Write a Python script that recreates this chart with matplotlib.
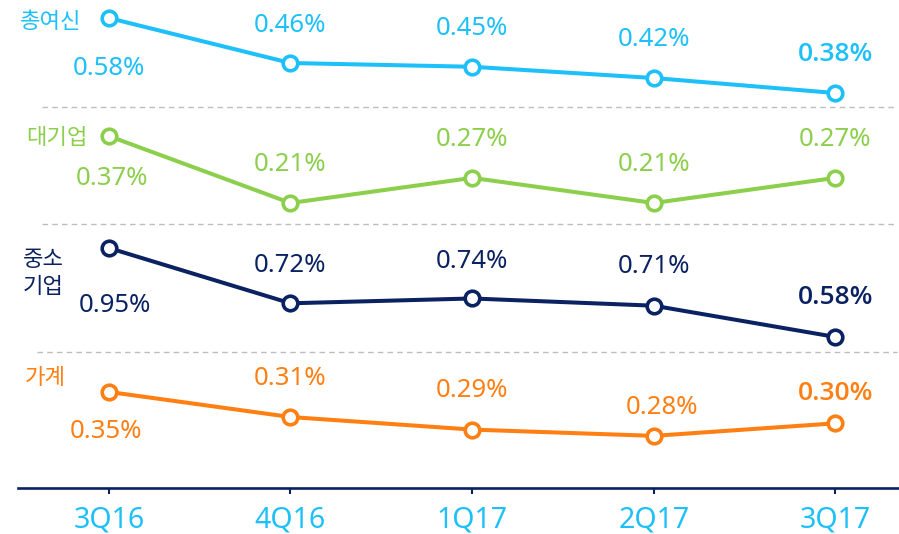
import matplotlib
matplotlib.use("Agg")
import matplotlib.pyplot as plt
from matplotlib.lines import Line2D
from matplotlib import font_manager as fm

plt.rcParams['font.family'] = ['Noto Sans CJK KR', 'DejaVu Sans']
LATIN = ['Noto Sans', 'Noto Sans CJK KR', 'DejaVu Sans']

# pick a family that really has a bold face
BOLD_FAM = ['Noto Sans CJK KR', 'DejaVu Sans']
for cand in ['Open Sans', 'Noto Sans', 'Roboto', 'Lato']:
    try:
        f = fm.findfont(fm.FontProperties(family=cand, weight='bold'),
                        fallback_to_default=False)
        if 'bold' in f.lower():
            BOLD_FAM = [cand, 'DejaVu Sans']
            break
    except Exception:
        pass

# ---- data ----
quarters = ["3Q16", "4Q16", "1Q17", "2Q17", "3Q17"]
series_names = ["총여신", "대기업", "중소\n기업", "가계"]
total_loans = [0.58, 0.46, 0.45, 0.42, 0.38]
large_corp = [0.37, 0.21, 0.27, 0.21, 0.27]
sme = [0.95, 0.72, 0.74, 0.71, 0.58]
household = [0.35, 0.31, 0.29, 0.28, 0.30]
series_values = [total_loans, large_corp, sme, household]

# ---- styles / layout ----
colors = ["#1DC0F9", "#8CCF4C", "#0B2262", "#FF7F12"]
ylims = [(-0.673, 0.628), (-0.471, 0.695), (-0.048, 1.981), (0.197, 0.974)]
# label offsets in pixels (dx, dy)
label_offsets = [
    [(0, -50), (0, 38), (0, 38), (0, 39), (0, 39)],
    [(3, -42), (0, 38), (0, 38), (0, 38), (0, 38)],
    [(6, -58), (0, 38), (0, 37), (0, 39), (0, 39)],
    [(-3, -40), (0, 39), (0, 39), (8, 28), (0, 30)],
]
name_pos = [(51, 22), (57, 138), (43, 273), (45, 378)]

W, H = 899, 534
fig = plt.figure(figsize=(W / 100, H / 100), dpi=100)

axis_y = 488
rect = [18 / W, (H - axis_y) / H, (W - 18) / W, axis_y / H]
x = list(range(len(quarters)))

axes = []
for i in range(4):
    ax = fig.add_axes(rect, label=f"s{i}")
    ax.patch.set_visible(False)
    ax.set_xlim(-0.5, 4.35)
    ax.set_ylim(*ylims[i])
    for sp in ax.spines.values():
        sp.set_visible(False)
    ax.set_yticks([])
    ax.set_xticks([])
    axes.append(ax)

base = axes[-1]
base.spines['bottom'].set_visible(True)
base.spines['bottom'].set_color("#0B2262")
base.spines['bottom'].set_linewidth(1.9)
base.set_xticks(x)
base.set_xticklabels(quarters)
base.tick_params(axis='x', direction='out', length=4.5, width=1.5,
                 color="#0B2262", pad=8, labelsize=20.5, labelcolor=colors[0])
for t in base.get_xticklabels():
    t.set_family(LATIN)

for i, (ax, vals) in enumerate(zip(axes, series_values)):
    c = colors[i]
    ax.plot(x, vals, color=c, lw=2.9, marker='o', ms=10.5, mfc='white',
            mec=c, mew=2.6, solid_joinstyle='round', zorder=3, clip_on=False)
    for j, v in enumerate(vals):
        dx, dy = label_offsets[i][j]
        bold = (j == 4 and i != 1)
        ax.annotate(f"{v:.2f}%", (x[j], v), xytext=(dx, dy),
                    textcoords='offset pixels', ha='center', va='center',
                    fontsize=19 if bold else 18.5, color=c,
                    family=BOLD_FAM if bold else LATIN,
                    fontweight='semibold' if bold else 'normal')
    px, py = name_pos[i]
    fig.text(px / W, 1 - py / H, series_names[i], ha='center', va='center',
             fontsize=16, color=c, linespacing=1.2)

# dashed separators
for ys, xs in [(107, 42), (224, 42), (352, 37)]:
    fig.add_artist(Line2D([xs / W, 897 / W], [1 - ys / H, 1 - ys / H],
                          transform=fig.transFigure, color="#BDBDBD",
                          lw=1.0, ls=(0, (4, 3))))

fig.savefig("out.png", dpi=100)
